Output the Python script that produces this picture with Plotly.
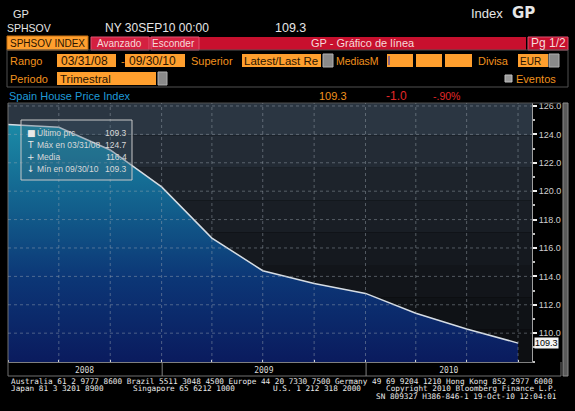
import plotly.graph_objects as go
import pandas as pd

# Spain House Price Index, quarterly
quarters = ["2008-03-31", "2008-06-30", "2008-09-30", "2008-12-31", "2009-03-31",
            "2009-06-30", "2009-09-30", "2009-12-31", "2010-03-31", "2010-06-30",
            "2010-09-30"]
index_values = [124.7, 124.5, 122.9, 120.3, 116.7, 114.4, 113.5, 112.8, 111.4, 110.3, 109.3]
year_labels = ["2008", "2009", "2010"]
y_ticks = [110, 112, 114, 116, 118, 120, 122, 124, 126]
change_txt = "-1.0"
change_pct_txt = "-.90%"

x_range = ["2008-03-31", "2010-10-25"]
y_range = [107.97, 126.21]

W, H = 575, 411
L, R, T, B = 8, 532, 103, 362   # plot area in pixels

SANS = "Liberation Sans, Arial, sans-serif"
MONO = "DejaVu Sans Mono, monospace"
ORANGE = "#ff9f2e"
ORANGE_TXT = "#f0921e"
DARK = "#2a1400"
TAB_TXT = "#f6dada"


def px(x):
    return (x - L) / (R - L)


def py(y):
    return (B - y) / (B - T)


shapes = []
annotations = []


def box(x0, y0, x1, y1, fill="rgba(0,0,0,0)", line="rgba(0,0,0,0)", width=1, layer="above"):
    shapes.append(dict(type="rect", xref="paper", yref="paper",
                       x0=px(x0), x1=px(x1), y0=py(y1), y1=py(y0),
                       fillcolor=fill, line=dict(color=line, width=width), layer=layer))


def hline(x0, x1, y, color, width=1):
    shapes.append(dict(type="line", xref="paper", yref="paper", x0=px(x0), x1=px(x1),
                       y0=py(y), y1=py(y), line=dict(color=color, width=width)))


def vline(x, y0, y1, color, width=1):
    shapes.append(dict(type="line", xref="paper", yref="paper", x0=px(x), x1=px(x),
                       y0=py(y0), y1=py(y1), line=dict(color=color, width=width)))


def label(text, x, y, color="#e6e6e6", size=11, anchor="left", family=SANS):
    annotations.append(dict(text=text, xref="paper", yref="paper", x=px(x), y=py(y),
                            xanchor=anchor, yanchor="middle", showarrow=False, borderpad=0,
                            font=dict(family=family, size=size, color=color)))


# ---- plot background: dark vertical gradient in bands ----
bands = ["#2b3642", "#232b35", "#1d232b", "#191e25", "#15191f", "#12151a", "#0f1216", "#0d0f12"]
band_h = (B - T) / len(bands)
for i, c in enumerate(bands):
    box(L, T + i * band_h, R, T + (i + 1) * band_h, fill=c, layer="below")

# ---- header ----
label("GP", 12, 14, size=11)
label("SPHSOV", 6, 28, size=10.5)
label("NY 30SEP10 00:00", 104, 28, size=12)
label(f"{index_values[-1]:.1f}", 274, 28, size=12.5)
label("Index", 470, 13, size=13)
label("<b>GP</b>", 511, 13, size=15, family="DejaVu Sans, sans-serif")

box(7, 36, 88, 50, fill=ORANGE, line="#c87010")
label("SPHSOV INDEX", 9, 43, color=DARK, size=10)
box(91, 37, 526, 50, fill="#c8102e")
box(91, 37, 149, 50, fill="#d42040", line="#e05070")
box(151, 37, 199, 50, fill="#d42040", line="#e05070")
label("Avanzado", 119, 43, color=TAB_TXT, size=10, anchor="center")
label("Esconder", 174, 43, color=TAB_TXT, size=10, anchor="center")
label("GP - Gráfico de línea", 363, 43, color=TAB_TXT, size=11, anchor="center")
box(528, 37, 568, 50, fill="#c8102e", line="#e05070")
label("Pg 1/2", 548, 43, color=TAB_TXT, size=12, anchor="center")

box(7, 50, 568, 87, line="#505050")

# row: Rango
label("Rango", 9, 61, color=ORANGE_TXT, size=11)
box(57, 54, 116, 67, fill=ORANGE)
label("03/31/08", 60, 61, color=DARK, size=12)
label("-", 120, 61, color=ORANGE_TXT, size=11)
box(125, 54, 185, 67, fill=ORANGE)
label("09/30/10", 128, 61, color=DARK, size=12)
label("Superior", 190, 61, color=ORANGE_TXT, size=11)
box(242, 54, 321, 67, fill=ORANGE)
label("Latest/Last Re", 243, 61, color=DARK, size=11.5)
box(323, 54, 333, 67, fill="#8a8a8a", line="#b0b0b0")
label("MediasM", 335, 61, color=ORANGE_TXT, size=10.5)
for x0, x1 in [(387, 413), (416, 442), (445, 472)]:
    box(x0, 54, x1, 67, fill=ORANGE)
vline(389, 56, 65, "#2030c0")
label("Divisa", 477, 61, color=ORANGE_TXT, size=11)
box(518, 54, 548, 67, fill=ORANGE)
label("EUR", 519, 61, color=DARK, size=10)
box(549, 54, 559, 67, fill="#8a8a8a", line="#b0b0b0")

# row: Periodo
label("Periodo", 9, 79, color=ORANGE_TXT, size=11)
box(57, 72, 156, 85, fill=ORANGE)
label("Trimestral", 59, 79, color=DARK, size=11.5)
box(158, 72, 167, 85, fill="#8a8a8a", line="#b0b0b0")
box(505, 75, 512, 82, fill="#9a9a9a", line="#c0c0c0")
label("Eventos", 515, 79, color=ORANGE_TXT, size=11)

# title row
label("Spain House Price Index", 8, 96, color="#1f9ad8", size=11)
label(f"{index_values[-1]:.1f}", 318, 96, color=ORANGE_TXT, size=11)
label(change_txt, 385, 96, color="#e02828", size=12)
label(change_pct_txt, 432, 96, color="#e02828", size=10.5)

# ---- axis frame, x band, scrollbar ----
hline(L, 561, T, "#505050")
vline(L, T, 376, "#707070")
hline(L, 561, 376, "#707070")
vline(561, B, 376, "#707070")
box(563, T, 568, 376, fill="#5a5a5a", line="#8a8a8a")

# gridlines (drawn above the fill, as in the terminal picture)
for q in quarters[1:]:
    shapes.append(dict(type="line", xref="x", yref="paper", x0=q, x1=q, y0=0, y1=1,
                       line=dict(color="rgba(160,170,180,0.45)", width=1, dash="dot"),
                       layer="above"))
for t in y_ticks:
    shapes.append(dict(type="line", xref="paper", yref="y", x0=0, x1=1, y0=t, y1=t,
                       line=dict(color="rgba(160,170,180,0.45)", width=1, dash="dot"),
                       layer="above"))

# year separators in the x band
for yr in year_labels[1:]:
    shapes.append(dict(type="line", xref="x", yref="paper", x0=f"{yr}-01-01", x1=f"{yr}-01-01",
                       y0=py(B), y1=py(376), line=dict(color="#808080", width=1)))

# year tick positions: centre of the visible part of each year
start, end = pd.Timestamp(x_range[0]), pd.Timestamp(x_range[1])
year_ticks = []
for yr in year_labels:
    a = max(start, pd.Timestamp(f"{yr}-01-01"))
    b = min(end, pd.Timestamp(f"{yr}-12-31"))
    year_ticks.append((a + (b - a) / 2).strftime("%Y-%m-%d"))

# ---- stats box ----
box(21, 120, 132, 180, fill="rgba(60,90,110,0.30)", line="#c8c8c8")
imax = index_values.index(max(index_values))
imin = index_values.index(min(index_values))
fmt_date = lambda d: pd.Timestamp(d).strftime("%m/%d/%y")
stats = [
    ("■", "Último prc", index_values[-1]),
    ("T", f"Máx en {fmt_date(quarters[imax])}", max(index_values)),
    ("+", "Media", sum(index_values) / len(index_values)),
    ("↓", f"Mín en {fmt_date(quarters[imin])}", min(index_values)),
]
for i, (icon, name, val) in enumerate(stats):
    yy = 133 + i * 12
    label(icon, 26, yy, color="#e8e8e8", size=9, family="DejaVu Sans, sans-serif")
    label(name, 36, yy, color="#d8d8d8", size=8.5)
    label(f"{val:.1f}", 128, yy, color="#d8d8d8", size=8.5, anchor="right")

# last value tag on the right axis
annotations.append(dict(text=f"{index_values[-1]:.1f}", xref="paper", yref="y", x=1.004,
                        y=index_values[-1], xanchor="left", yanchor="middle", showarrow=False,
                        bgcolor="#f4f4f4", borderpad=0,
                        font=dict(family=SANS, size=9, color="#000000")))

# ---- footer (terminal phone lines) ----
foot = [
    [(10, "left", "Australia 61 2 9777 8600 Brazil 5511 3048 4500 Europe 44 20 7330 7500 Germany 49 69 9204 1210 Hong Kong 852 2977 6000")],
    [(10, "left", "Japan 81 3 3201 8900"), (132, "left", "Singapore 65 6212 1000"),
     (272, "left", "U.S. 1 212 318 2000"), (558, "right", "Copyright 2010 Bloomberg Finance L.P.")],
    [(558, "right", "SN 809327 H386-846-1 19-Oct-10 12:04:01")],
]
for i, parts in enumerate(foot):
    for x, anchor, txt in parts:
        label(txt, x, 381 + i * 7.8, color="#e8e8e8", size=7.7, anchor=anchor, family=MONO)

# ---- figure ----
fig = go.Figure()
fig.add_trace(go.Scatter(
    x=quarters, y=index_values, mode="lines",
    line=dict(color="#d6dde4", width=1.5),
    fill="tozeroy",
    fillgradient=dict(type="vertical", start=y_range[0], stop=max(index_values),
                      colorscale=[[0, "#0a1b5e"], [0.35, "#0c3676"], [0.65, "#125f8c"], [1, "#1b8aa6"]]),
    hoverinfo="skip", showlegend=False,
))

fig.update_layout(
    width=W, height=H,
    margin=dict(l=L, r=W - R, t=T, b=H - B, autoexpand=False),
    paper_bgcolor="#000000", plot_bgcolor="rgba(0,0,0,0)",
    shapes=shapes, annotations=annotations, showlegend=False,
    xaxis=dict(type="date", range=x_range, showgrid=False, zeroline=False, automargin=False,
               tickmode="array", tickvals=year_ticks, ticktext=year_labels, ticks="",
               tickfont=dict(family=MONO, size=8, color="#d8d8d8"),
               minor=dict(tickmode="array", tickvals=quarters, ticks="inside", ticklen=2,
                          tickcolor="#e0e0e0", showgrid=False),
               showline=True, linecolor="#808080", fixedrange=True),
    yaxis=dict(side="right", range=y_range, showgrid=False, zeroline=False, automargin=False,
               tickmode="array", tickvals=y_ticks, ticktext=[f"{t:.1f}" for t in y_ticks],
               ticks="outside", ticklen=4, tickwidth=2, tickcolor="#f0f0f0",
               minor=dict(dtick=1, ticks="outside", ticklen=2, tickcolor="#c0c0c0"),
               tickfont=dict(family=SANS, size=9, color="#cfcfcf"),
               showline=True, linecolor="#a0a0a0", fixedrange=True),
)

# the page's default body margin would shift the figure by 8px
fig.write_html("out.html", config={"displayModeBar": False},
               post_script="document.body.style.margin='0px';document.body.style.background='#000';")
